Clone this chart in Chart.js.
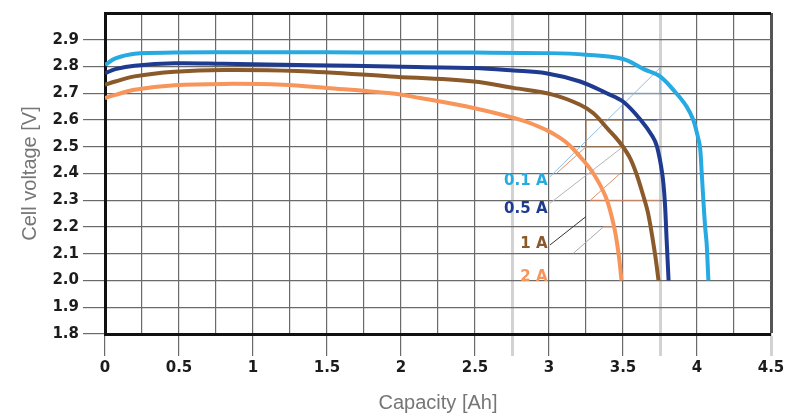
<!DOCTYPE html>
<html>
<head>
<meta charset="utf-8">
<script src="https://cdn.jsdelivr.net/npm/chart.js@4.4.0/dist/chart.umd.min.js"></script>
<style>
  html, body { margin: 0; padding: 0; background: #fff; }
  #wrap { width: 792px; height: 417px; }
</style>
</head>
<body>
<div id="wrap"><canvas id="dischargeChart"></canvas></div>
<script>
// ========== DADOS ==========
const capacityLabels = ['0', '0.5', '1', '1.5', '2', '2.5', '3', '3.5', '4', '4.5'];
const voltageLabels = ['1.8', '1.9', '2.0', '2.1', '2.2', '2.3', '2.4', '2.5', '2.6', '2.7', '2.8', '2.9'];
const seriesNames = ['0.1 A', '0.5 A', '1 A', '2 A'];

const cap01 = [0, 0.07, 0.2, 0.47, 1.0, 1.5, 2.0, 2.5, 3.0, 3.25, 3.5, 3.64, 3.75, 3.86, 3.93, 3.975, 4.0, 4.02, 4.032, 4.043, 4.055, 4.065, 4.072, 4.077];
const volt01 = [2.806, 2.83, 2.848, 2.852, 2.853, 2.853, 2.852, 2.852, 2.85, 2.844, 2.828, 2.79, 2.763, 2.70, 2.65, 2.60, 2.55, 2.50, 2.40, 2.30, 2.20, 2.14, 2.06, 2.00];

const cap05 = [0, 0.07, 0.2, 0.47, 0.8, 1.4, 1.93, 2.49, 2.76, 2.98, 3.21, 3.39, 3.5, 3.62, 3.70, 3.73, 3.765, 3.782, 3.795, 3.808];
const volt05 = [2.775, 2.79, 2.803, 2.812, 2.81, 2.805, 2.80, 2.794, 2.785, 2.775, 2.744, 2.70, 2.669, 2.60, 2.538, 2.50, 2.40, 2.30, 2.15, 2.00];

const cap1 = [0, 0.07, 0.2, 0.47, 0.8, 1.3, 1.93, 2.49, 2.76, 3.03, 3.21, 3.3, 3.4, 3.45, 3.5, 3.55, 3.59, 3.63, 3.67, 3.716, 3.74];
const volt1 = [2.732, 2.744, 2.763, 2.78, 2.787, 2.783, 2.763, 2.744, 2.72, 2.694, 2.657, 2.625, 2.565, 2.535, 2.50, 2.455, 2.40, 2.33, 2.25, 2.10, 2.00];

const cap2 = [0, 0.07, 0.2, 0.47, 0.8, 1.2, 1.5, 1.93, 2.13, 2.49, 2.83, 2.98, 3.07, 3.14, 3.21, 3.30, 3.385, 3.44, 3.47, 3.49];
const volt2 = [2.682, 2.694, 2.713, 2.73, 2.735, 2.732, 2.72, 2.70, 2.682, 2.645, 2.597, 2.563, 2.535, 2.505, 2.463, 2.40, 2.31, 2.20, 2.10, 2.00];

const COLORS = {
    c01: '#27a9e1',
    c05: '#1f3b8f',
    c1: '#8b5a2b',
    c2: '#f7955b',
    grid: '#6a6a6a',
    gridLight: '#d2d2d2',
    text: '#1c1c1c',
    title: '#767676'
};

// posição dos rótulos das curvas (capacidade, tensão) – texto alinhado à direita
const labelAnchors = [[2.99, 2.37], [2.99, 2.266], [2.99, 2.137], [2.99, 2.014]];
const labelColors = [COLORS.c01, COLORS.c05, COLORS.c1, COLORS.c2];

// linhas de chamada (coordenadas em dados)
const leaderLines = [
    { a: [3.007, 2.388], b: [3.75, 2.795], color: '#8fbde0' },
    { a: [3.5, 2.70], b: [3.75, 2.70], color: '#7fb3d9' },
    { a: [3.75, 2.70], b: [3.75, 2.795], color: '#7fb3d9' },
    { a: [3.5, 2.60], b: [3.5, 2.70], color: '#5a6fb0' },
    { a: [3.5, 2.60], b: [3.73, 2.60], color: '#3a52a0' },
    { a: [3.25, 2.60], b: [3.5, 2.60], color: '#9b7048' },
    { a: [3.25, 2.50], b: [3.25, 2.60], color: '#9b7048' },
    { a: [3.5, 2.40], b: [3.5, 2.60], color: '#9b7048' },
    { a: [3.25, 2.50], b: [3.5, 2.50], color: '#9b7048' },
    { a: [3.05, 2.40], b: [3.25, 2.50], color: '#e0906a' },
    { a: [3.25, 2.40], b: [3.48, 2.40], color: '#e0906a' },
    { a: [3.28, 2.30], b: [3.48, 2.40], color: '#e0906a' },
    { a: [3.28, 2.30], b: [3.75, 2.30], color: '#e0906a' },
    { a: [3.007, 2.289], b: [3.5, 2.50], color: '#b4b4b4' },
    { a: [3.007, 2.133], b: [3.25, 2.239], color: '#333333' },
    { a: [3.165, 2.102], b: [3.367, 2.20], color: '#aaaaaa' },
    { a: [3.367, 2.20], b: [3.44, 2.20], color: '#f09a68' }
];

function toPoints(xs, ys) {
    return xs.map((x, i) => ({ x: x, y: ys[i] }));
}

function near(v, target) {
    return Math.abs(v - target) < 1e-6;
}

const annotationPlugin = {
    id: 'curveAnnotations',
    beforeDatasetsDraw(chart) {
        const { ctx, scales: { x, y } } = chart;
        ctx.save();
        ctx.lineWidth = 1;
        leaderLines.forEach(l => {
            ctx.strokeStyle = l.color;
            ctx.beginPath();
            ctx.moveTo(x.getPixelForValue(l.a[0]), y.getPixelForValue(l.a[1]));
            ctx.lineTo(x.getPixelForValue(l.b[0]), y.getPixelForValue(l.b[1]));
            ctx.stroke();
        });
        ctx.restore();
    },
    afterDatasetsDraw(chart) {
        const { ctx, scales: { x, y } } = chart;
        ctx.save();
        ctx.font = 'bold 15px "DejaVu Sans"';
        ctx.textAlign = 'right';
        ctx.textBaseline = 'middle';
        seriesNames.forEach((name, i) => {
            ctx.fillStyle = labelColors[i];
            ctx.fillText(name, x.getPixelForValue(labelAnchors[i][0]), y.getPixelForValue(labelAnchors[i][1]));
        });
        ctx.restore();
    }
};

function lineDataset(label, xs, ys, color) {
    return {
        label: label,
        data: toPoints(xs, ys),
        borderColor: color,
        backgroundColor: color,
        borderWidth: 4,
        pointRadius: 0,
        showLine: true,
        fill: false,
        tension: 0.35,
        borderCapStyle: 'butt'
    };
}

new Chart(document.getElementById('dischargeChart'), {
    type: 'scatter',
    data: {
        datasets: [
            lineDataset(seriesNames[0], cap01, volt01, COLORS.c01),
            lineDataset(seriesNames[1], cap05, volt05, COLORS.c05),
            lineDataset(seriesNames[2], cap1, volt1, COLORS.c1),
            lineDataset(seriesNames[3], cap2, volt2, COLORS.c2)
        ]
    },
    plugins: [annotationPlugin],
    options: {
        responsive: true,
        maintainAspectRatio: false,
        animation: false,
        layout: { padding: { top: 13, right: 21, left: 0, bottom: 0 } },
        plugins: {
            legend: { display: false },
            tooltip: { enabled: false }
        },
        scales: {
            x: {
                type: 'linear',
                min: 0,
                max: 4.5,
                afterFit: function (scale) { scale.height = 83; },
                border: { color: '#111', width: 3 },
                grid: {
                    color: function (c) {
                        const v = c.tick.value;
                        if (near(v, 2.75) || near(v, 3.75)) return COLORS.gridLight;
                        if (near(v, 4.5)) return '#555';
                        return COLORS.grid;
                    },
                    lineWidth: function (c) {
                        const v = c.tick.value;
                        if (near(v, 2.75) || near(v, 3.75) || near(v, 4.5)) return 3;
                        return 1.2;
                    },
                    tickColor: function (c) {
                        const v = c.tick.value;
                        if (near(v, 2.75) || near(v, 3.75) || near(v, 4.5)) return COLORS.gridLight;
                        return near(v * 2, Math.round(v * 2)) ? COLORS.grid : 'rgba(0,0,0,0)';
                    },
                    tickLength: 22
                },
                ticks: {
                    stepSize: 0.25,
                    autoSkip: false,
                    maxRotation: 0,
                    padding: 3,
                    color: COLORS.text,
                    font: { family: 'DejaVu Sans', size: 15, weight: 'bold' },
                    callback: function (value) {
                        const found = capacityLabels.find(l => near(parseFloat(l), value));
                        return found !== undefined ? found : '';
                    }
                },
                title: {
                    display: true,
                    text: 'Capacity [Ah]',
                    color: COLORS.title,
                    font: { family: 'Liberation Sans', size: 20 },
                    padding: { top: 0, bottom: 2 }
                }
            },
            y: {
                type: 'linear',
                min: 1.8,
                max: 3.0,
                afterFit: function (scale) { scale.width = 105; },
                border: { color: '#111', width: 3 },
                grid: {
                    color: function (c) {
                        return near(c.tick.value, 3.0) ? '#111' : COLORS.grid;
                    },
                    lineWidth: function (c) {
                        return near(c.tick.value, 3.0) ? 3 : 1.2;
                    },
                    tickColor: function (c) {
                        return near(c.tick.value, 3.0) ? 'rgba(0,0,0,0)' : COLORS.grid;
                    },
                    tickLength: 22
                },
                ticks: {
                    stepSize: 0.1,
                    padding: 4,
                    color: COLORS.text,
                    font: { family: 'DejaVu Sans', size: 15, weight: 'bold' },
                    callback: function (value) {
                        const found = voltageLabels.find(l => near(parseFloat(l), value));
                        return found !== undefined ? found : '';
                    }
                },
                title: {
                    display: true,
                    text: 'Cell voltage [V]',
                    color: COLORS.title,
                    font: { family: 'Liberation Sans', size: 20 },
                    padding: { top: 18, bottom: 0 }
                }
            }
        }
    }
});
</script>
</body>
</html>
